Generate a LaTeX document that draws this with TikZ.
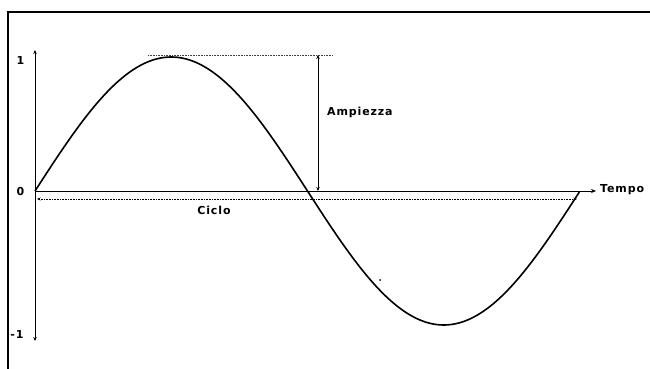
\documentclass[tikz,border=0pt]{standalone}
\usepackage{fontspec}
\newfontfamily\pix[LetterSpace=8]{DejaVu Sans Bold}
\usetikzlibrary{arrows.meta}
\tikzset{
  lbl/.style={inner sep=0pt, font=\pix\fontsize{11}{12}\selectfont},
  tick/.style={-{Stealth[length=4pt,width=3.5pt]}, line width=1pt},
  dots/.style={line width=0.6pt, dash pattern=on 0.8pt off 0.8pt, black!75}
}
\begin{document}
\begin{tikzpicture}[x=1pt,y=-1pt]
\useasboundingbox (0,0) rectangle (650,369);
% frame
\draw[line width=1.2pt] (8,369) -- (8,12) -- (650,12);
% axes
\coordinate (O) at (35,191);
\coordinate (ytop) at (35,50);
\coordinate (ybot) at (35,341);
\coordinate (xend) at (596,191);
\draw[tick] (O) -- (ytop);
\draw[tick] (O) -- (ybot);
\draw[line width=1pt, -{Stealth[length=5pt,width=4pt]}] (O) -- (xend);
\node[lbl, anchor=west] (tempo) at (600,190) {Tempo};
\node[lbl] (l1) at (20.5,60) {1};
\node[lbl] (l0) at (20.5,191.5) {0};
\node[lbl] (lm1) at (17,334) {-1};
% sine
\draw[line width=1.6pt, smooth, samples=120, domain=0:1]
  plot ({35+545*\x},{191-134*sin(360*\x)});
% amplitude
\coordinate (peakL) at (148,55);
\coordinate (peakR) at (333,55);
\draw[dots] (peakL) -- (peakR);
\coordinate (atop) at (318,55);
\coordinate (abot) at (318,191);
\draw[line width=0.9pt, {Stealth[length=4pt,width=3.5pt]}-{Stealth[length=4pt,width=3.5pt]}] (atop) -- (abot);
\node[lbl, anchor=west] (amp) at (327,112) {Ampiezza};
% cycle
\coordinate (cL) at (37,199);
\coordinate (cR) at (577,199);
\draw[dots, black, {Stealth[length=3.5pt,width=3pt]}-{Stealth[length=3.5pt,width=3pt]}] (cL) -- (cR);
\node[lbl] (ciclo) at (214,210) {Ciclo};
% stray dot
\fill (380,280) circle (1pt);
\end{tikzpicture}
\end{document}
